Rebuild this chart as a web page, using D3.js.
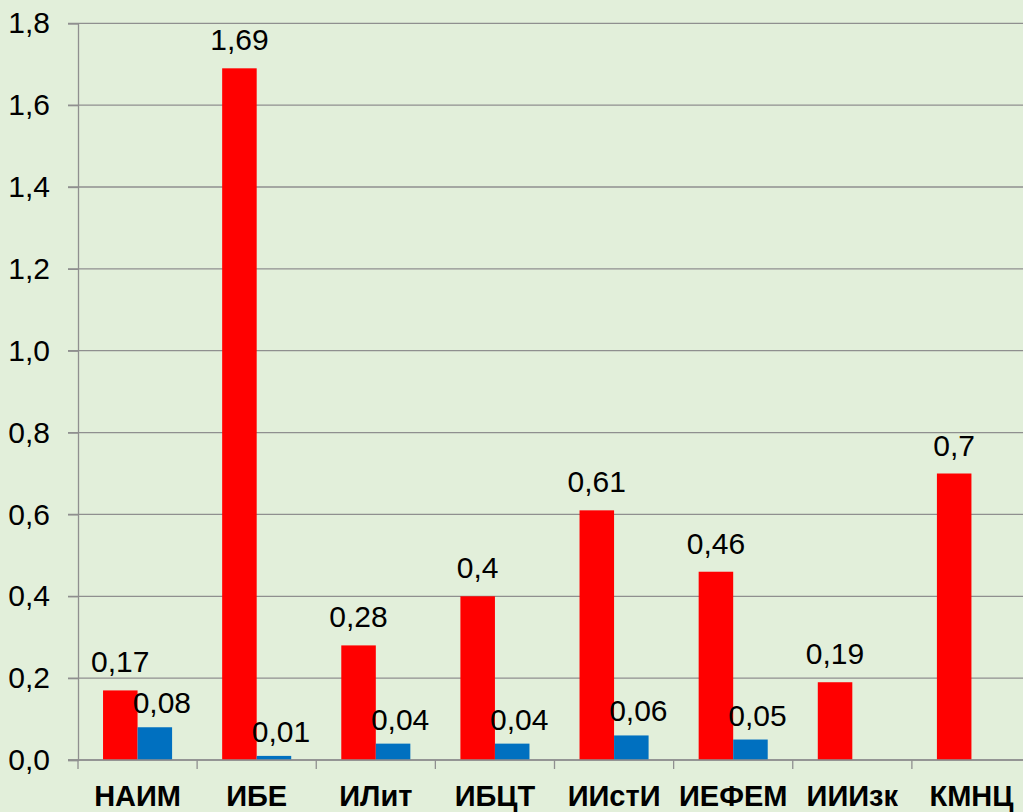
<!DOCTYPE html>
<html><head><meta charset="utf-8">
<script src="https://cdn.jsdelivr.net/npm/d3@7"></script>
<style>
html,body{margin:0;padding:0;background:#e2efda;overflow:hidden}
svg{display:block}
</style></head>
<body>
<svg id="chart" width="1023" height="812"></svg>
<script>
const categories = ["НАИМ","ИБЕ","ИЛит","ИБЦТ","ИИстИ","ИЕФЕМ","ИИИзк","КМНЦ"];
const redValues  = [0.17, 1.69, 0.28, 0.40, 0.61, 0.46, 0.19, 0.70];
const blueValues = [0.08, 0.01, 0.04, 0.04, 0.06, 0.05, null, null];
const yTicks = [0, 0.2, 0.4, 0.6, 0.8, 1.0, 1.2, 1.4, 1.6, 1.8];

(function(){
const svg = d3.select("#chart");
svg.append("rect").attr("width",1023).attr("height",812).attr("fill","#e2efda");

const mLeft = 78, mRight = 1031, mTop = 23.3, mBottom = 760;
const x = d3.scaleBand().domain(categories).range([mLeft, mRight]).paddingInner(0).paddingOuter(0);
const sub = d3.scaleBand().domain(["r","b"]).range([0, x.bandwidth()]).paddingInner(0).paddingOuter(0.725);
const y = d3.scaleLinear().domain([0, 1.8]).range([mBottom, mTop]);
const fmt = v => d3.format(".1f")(v).replace(".", ",");
const fmtLbl = v => String(+v.toFixed(2)).replace(".", ",");
const gridColor = "#8f8f8f";
const font = "Liberation Sans, Arial, sans-serif";

// gridlines
svg.append("g").selectAll("line").data(yTicks).join("line")
  .attr("x1", mLeft - 10).attr("x2", mRight)
  .attr("y1", d => y(d)).attr("y2", d => y(d))
  .attr("stroke", gridColor).attr("stroke-width", 1.3);

// y axis
const yAxis = svg.append("g").attr("transform", `translate(${mLeft},0)`)
  .call(d3.axisLeft(y).tickValues(yTicks).tickFormat(fmt).tickSize(10).tickPadding(18));
yAxis.select(".domain").attr("stroke", gridColor).attr("stroke-width", 1.3);
yAxis.selectAll(".tick line").attr("stroke", gridColor).attr("stroke-width", 1.3);
yAxis.selectAll("text").attr("font-family", font).attr("font-size", 30).attr("fill", "#000");

// x axis
const xAxis = svg.append("g").attr("transform", `translate(0,${mBottom})`)
  .call(d3.axisBottom(x).tickSize(0).tickPadding(0));
xAxis.select(".domain").remove();
xAxis.selectAll("text").attr("dy", null).attr("y", 45.5).attr("font-family", font).attr("font-size", 29)
  .attr("font-weight", "bold").attr("fill", "#000");
// boundary ticks
svg.append("g").selectAll("line").data(categories).join("line")
  .attr("x1", d => x(d)).attr("x2", d => x(d))
  .attr("y1", mBottom).attr("y2", mBottom + 9)
  .attr("stroke", gridColor).attr("stroke-width", 1.3);

// bars
const g = svg.append("g");
g.selectAll(".red").data(categories).join("rect").attr("class","red")
  .attr("x", d => x(d) + sub("r")).attr("width", sub.bandwidth())
  .attr("y", (d,i) => y(redValues[i])).attr("height", (d,i) => y(0) - y(redValues[i]))
  .attr("fill", "#ff0000");
const blueData = categories.map((c,i) => ({c, v: blueValues[i]})).filter(d => d.v != null);
g.selectAll(".blue").data(blueData).join("rect").attr("class","blue")
  .attr("x", d => x(d.c) + sub("b")).attr("width", sub.bandwidth())
  .attr("y", d => y(d.v)).attr("height", d => y(0) - y(d.v))
  .attr("fill", "#0070c0");

// axis baseline on top of bars
svg.append("line").attr("x1", mLeft - 10).attr("x2", mRight).attr("y1", mBottom).attr("y2", mBottom)
  .attr("stroke", gridColor).attr("stroke-width", 1.3);

// labels
g.selectAll(".rl").data(categories).join("text").attr("class","rl")
  .attr("x", d => x(d) + sub("r") + sub.bandwidth()/2)
  .attr("y", (d,i) => y(redValues[i]) - 18)
  .attr("text-anchor","middle").attr("font-family", font).attr("font-size", 30).attr("fill","#000")
  .text((d,i) => fmtLbl(redValues[i]));
g.selectAll(".bl").data(blueData).join("text").attr("class","bl")
  .attr("x", d => x(d.c) + sub("b") + sub.bandwidth()/2 + 7)
  .attr("y", d => y(d.v) - 14)
  .attr("text-anchor","middle").attr("font-family", font).attr("font-size", 30).attr("fill","#000")
  .text(d => fmtLbl(d.v));
})();
</script>
</body></html>
